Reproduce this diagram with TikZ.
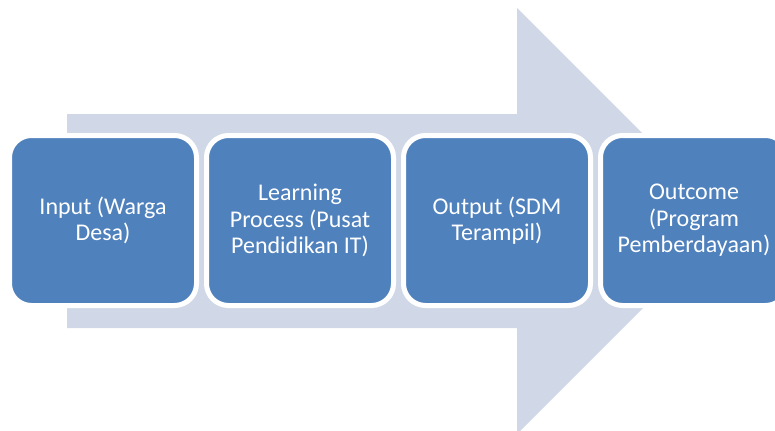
\documentclass[tikz,border=0pt]{standalone}
\usepackage{fontspec}
\setmainfont{Carlito}
\usetikzlibrary{positioning}
\definecolor{arrowfill}{RGB}{208,216,232}
\definecolor{stagefill}{RGB}{79,129,189}

\begin{document}
\begin{tikzpicture}[
  x=0.75pt, y=0.75pt,
  node distance=3.75pt,
  every node/.style={font=\fontsize{18}{19.9}\selectfont, align=center, text=white},
  stage/.style={draw=white, line width=3.75pt, fill=stagefill, rounded corners=16.5pt, minimum width=140.25pt, minimum height=127.5pt, inner sep=2pt}
]
\useasboundingbox (0,0) rectangle (775,430);
% big arrow behind the stages
\fill[arrowfill] (67,316) -- (517,316) -- (517,422) -- (730,209) -- (517,-4) -- (517,102) -- (67,102) -- cycle;
\node[stage] (input) at (103,209.5) {Input (Warga\\Desa)};
\node[stage, right=of input] (process) {Learning\\Process (Pusat\\Pendidikan IT)};
\node[stage, right=of process] (output) {Output (SDM\\Terampil)};
\node[stage, right=of output] (outcome) {Outcome\\(Program\\Pemberdayaan)};
\end{tikzpicture}
\end{document}
